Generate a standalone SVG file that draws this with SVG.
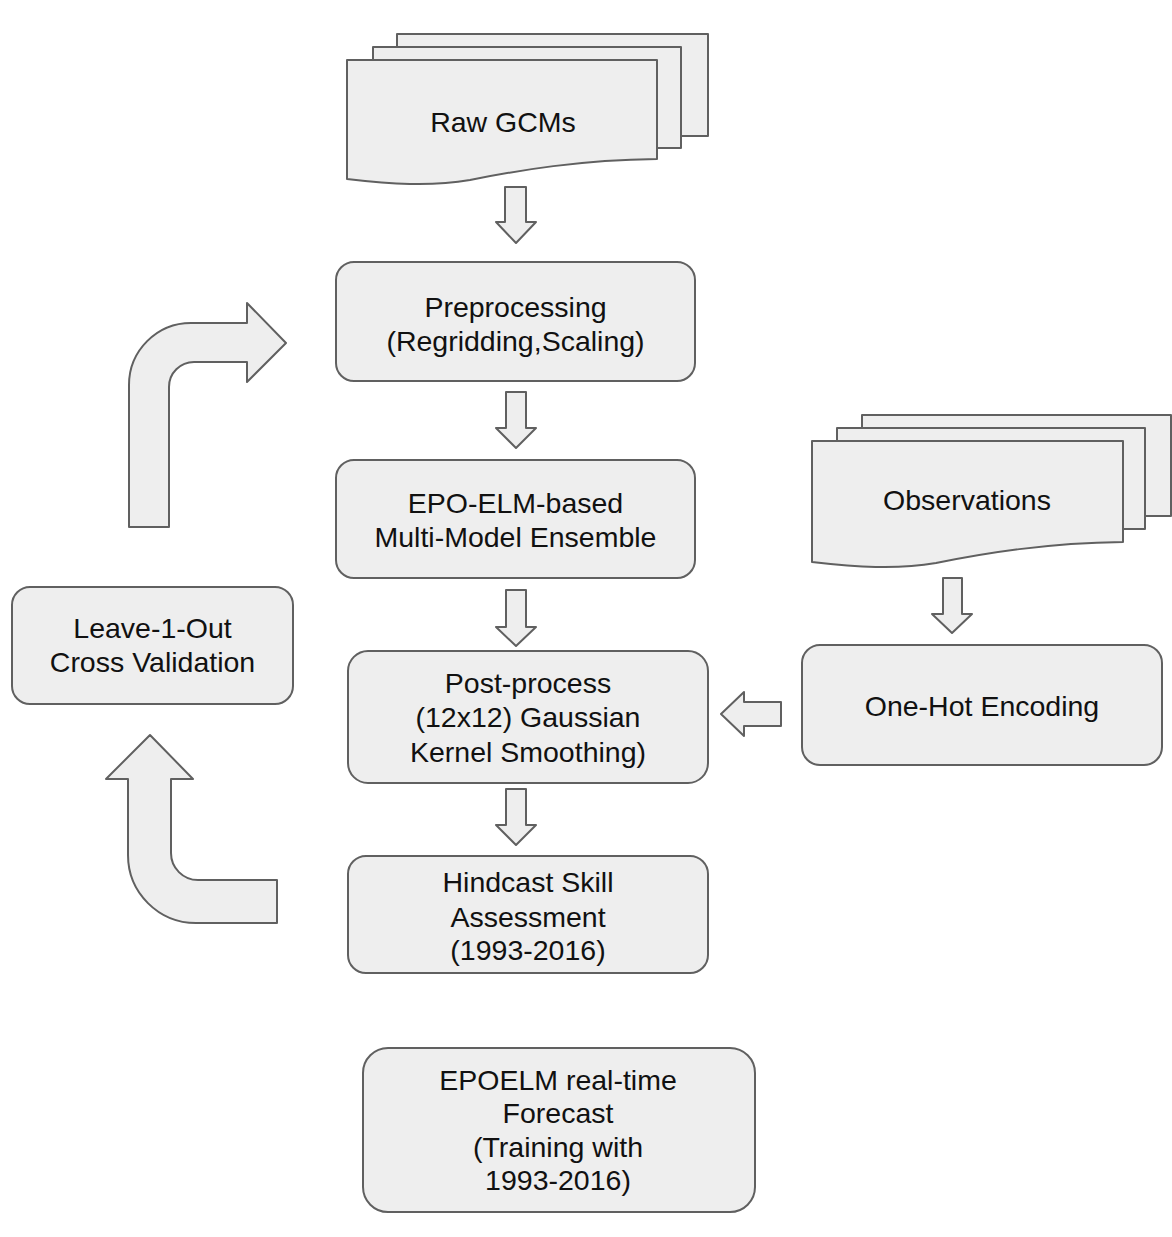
<svg xmlns="http://www.w3.org/2000/svg" width="1172" height="1237" viewBox="0 0 1172 1237">
<style>
.s{fill:#eeeeee;stroke:#606060;stroke-width:2;stroke-linejoin:round}
.t{font-family:"Liberation Sans",Arial,sans-serif;font-size:28.5px;fill:#111;text-anchor:middle}
</style>
<rect width="1172" height="1237" fill="#ffffff"/>
<g id="raw-gcms">
<rect class="s" x="397" y="34" width="311" height="102"/>
<rect class="s" x="373" y="47" width="308" height="101"/>
<path class="s" d="M347,60 H657 V159 C580,160 520,170 470,180 C430,187 390,184 347,179 Z"/>
<text class="t" x="503" y="132">Raw GCMs</text>
</g>
<g id="preprocessing">
<rect class="s" x="336" y="262" width="359" height="119" rx="18"/>
<text class="t" x="515.5" y="317">Preprocessing</text>
<text class="t" x="515.5" y="351">(Regridding,Scaling)</text>
</g>
<g id="epo-elm">
<rect class="s" x="336" y="460" width="359" height="118" rx="18"/>
<text class="t" x="515.5" y="513">EPO-ELM-based</text>
<text class="t" x="515.5" y="547">Multi-Model Ensemble</text>
</g>
<g id="observations">
<rect class="s" x="862" y="415" width="309" height="101"/>
<rect class="s" x="837" y="428" width="308" height="101"/>
<path class="s" d="M812,441 H1123 V542 C1046,543 986,553 936,563 C896,570 856,567 812,562 Z"/>
<text class="t" x="967" y="510">Observations</text>
</g>
<g id="leave-1-out">
<rect class="s" x="12" y="587" width="281" height="117" rx="18"/>
<text class="t" x="152.5" y="638">Leave-1-Out</text>
<text class="t" x="152.5" y="672">Cross Validation</text>
</g>
<g id="post-process">
<rect class="s" x="348" y="651" width="360" height="132" rx="20"/>
<text class="t" x="528" y="693">Post-process</text>
<text class="t" x="528" y="727">(12x12) Gaussian</text>
<text class="t" x="528" y="762">Kernel Smoothing)</text>
</g>
<g id="one-hot">
<rect class="s" x="802" y="645" width="360" height="120" rx="18"/>
<text class="t" x="982" y="716">One-Hot Encoding</text>
</g>
<g id="hindcast">
<rect class="s" x="348" y="856" width="360" height="117" rx="18"/>
<text class="t" x="528" y="892">Hindcast Skill</text>
<text class="t" x="528" y="927">Assessment</text>
<text class="t" x="528" y="960">(1993-2016)</text>
</g>
<g id="epoelm-forecast">
<rect class="s" x="363" y="1048" width="392" height="164" rx="25"/>
<text class="t" x="558" y="1090">EPOELM real-time</text>
<text class="t" x="558" y="1123">Forecast</text>
<text class="t" x="558" y="1157">(Training with</text>
<text class="t" x="558" y="1190"> 1993-2016)</text>
</g>
<g id="connectors">
<polygon class="s" points="505,187 526,187 526,222 536,222 516,243 496,222 505,222"/>
<polygon class="s" points="506,392 526,392 526,428 536,428 516,448 496,428 506,428"/>
<polygon class="s" points="506,590 526,590 526,627 536,627 516,646 496,627 506,627"/>
<polygon class="s" points="506,789 526,789 526,825 536,825 516,845 496,825 506,825"/>
<polygon class="s" points="943,578 962,578 962,614 972,614 952,633 932,614 943,614"/>
<polygon class="s" points="781,702 781,726 744,726 744,736 721,714 744,692 744,702"/>
<path class="s" d="M129,527 V385 A62,62 0 0 1 191,323 H247 V303 L286,343 L247,382 V362 H194 A25,25 0 0 0 169,387 V527 Z"/>
<path class="s" d="M150,735 L193,779 H171 V853 A27,27 0 0 0 198,880 H277 V923 H196 A68,68 0 0 1 128,855 V779 H106 Z"/>
</g>
</svg>
